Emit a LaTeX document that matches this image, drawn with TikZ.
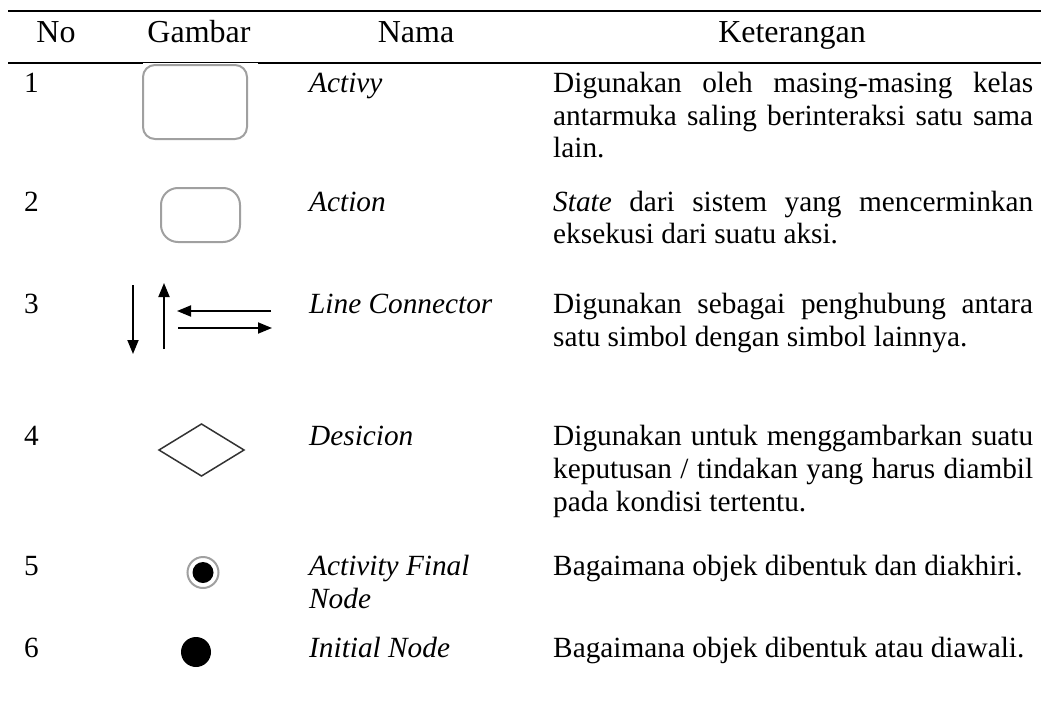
\documentclass[tikz,border=0pt]{standalone}
\usepackage{fontspec}
\setmainfont{Liberation Serif}
\usetikzlibrary{arrows.meta}
\newcommand\bodyfnt{\fontsize{29.3}{32.5}\selectfont}
\newcommand\headfnt{\fontsize{32}{36}\selectfont}
\newcommand\jline[1]{\makebox[480pt][s]{#1}}
\definecolor{boxgray}{HTML}{A0A0A0}
\definecolor{dgray}{HTML}{333333}
\tikzset{
  head/.style={anchor=base, inner sep=0pt, font=\headfnt},
  txt/.style={anchor=base west, inner sep=0pt, font=\bodyfnt},
  rulel/.style={line width=2.5pt, black},
  grayshape/.style={draw=boxgray, line width=2pt},
  conn/.style={line width=1.8pt, black, -{Triangle[length=14pt,width=11pt]}},
}
\begin{document}
\begin{tikzpicture}[x=1pt,y=-1pt]
\path[use as bounding box] (0,0) rectangle (1041,704);
% rules
\draw[rulel] (8,11) -- (1041,11);
\draw[rulel] (8,63) -- (1041,63);
\fill[white] (143,63.3) rectangle (258,65);
% header
\node[head] (hno) at (56,42) {No};
\node[head] (hgb) at (199,42) {Gambar};
\node[head] (hnm) at (416,42) {Nama};
\node[head] (hkt) at (792,42) {Keterangan};
% numbers
\node[txt] (n1) at (24,92) {1};
\node[txt] (n2) at (24,211) {2};
\node[txt] (n3) at (24,313) {3};
\node[txt] (n4) at (24,445) {4};
\node[txt] (n5) at (24,575) {5};
\node[txt] (n6) at (24,657) {6};
% names
\node[txt] (m1) at (309,92) {\itshape Activy};
\node[txt] (m2) at (309,211) {\itshape Action};
\node[txt] (m3) at (309,313) {\itshape Line Connector};
\node[txt] (m4) at (309,445) {\itshape Desicion};
\node[txt] (m5a) at (309,575) {\itshape Activity Final};
\node[txt] (m5b) at (309,608) {\itshape Node};
\node[txt] (m6) at (309,657) {\itshape Initial Node};
% descriptions
\node[txt] (k1a) at (553,92) {\jline{Digunakan oleh masing-masing kelas}};
\node[txt] (k1b) at (553,125) {\jline{antarmuka saling berinteraksi satu sama}};
\node[txt] (k1c) at (553,157) {lain.};
\node[txt] (k2a) at (553,211) {\jline{\textit{State} dari sistem yang mencerminkan}};
\node[txt] (k2b) at (553,243) {eksekusi dari suatu aksi.};
\node[txt] (k3a) at (553,313) {\jline{Digunakan sebagai penghubung antara}};
\node[txt] (k3b) at (553,346) {satu simbol dengan simbol lainnya.};
\node[txt] (k4a) at (553,445) {\jline{Digunakan untuk menggambarkan suatu}};
\node[txt] (k4b) at (553,478) {\jline{keputusan / tindakan yang harus diambil}};
\node[txt] (k4c) at (553,511) {pada kondisi tertentu.};
\node[txt] (k5) at (553,575) {Bagaimana objek dibentuk dan diakhiri.};
\node[txt] (k6) at (553,657) {Bagaimana objek dibentuk atau diawali.};
% symbols
\draw[grayshape, rounded corners=12pt] (143,65) rectangle (247,139);
\draw[grayshape, rounded corners=17pt] (161,188) rectangle (240,242);
\coordinate (d1s) at (133,285); \coordinate (d1e) at (133,354);
\coordinate (u1s) at (164,349); \coordinate (u1e) at (164,283);
\coordinate (l1s) at (271,311); \coordinate (l1e) at (177,311);
\coordinate (r1s) at (178,328); \coordinate (r1e) at (272,328);
\draw[conn] (d1s) -- (d1e);
\draw[conn] (u1s) -- (u1e);
\draw[conn] (l1s) -- (l1e);
\draw[conn] (r1s) -- (r1e);
\draw[dgray, line width=1.5pt, line join=miter] (159,450) -- (201.5,424) -- (244,450) -- (201.5,476) -- cycle;
\draw[boxgray, line width=2pt] (203,572.5) circle[radius=15.5];
\fill[black] (203,572.5) circle[radius=10.5];
\fill[black] (196,652) circle[radius=15];
\end{tikzpicture}
\end{document}
